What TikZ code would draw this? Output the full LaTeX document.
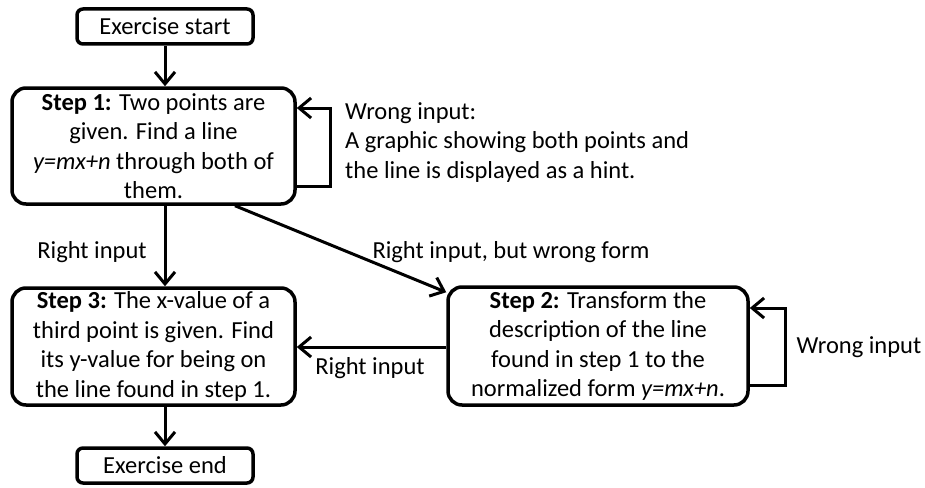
\documentclass[tikz,border=0pt]{standalone}
\usepackage{fontspec}
\setmainfont{Carlito}
\usetikzlibrary{arrows.meta}
\begin{document}
\begin{tikzpicture}[x=1pt,y=-1pt,
  txt/.style={font=\fontsize{24.5}{29.5}\selectfont, inner sep=0pt},
  box/.style={txt, draw, line width=3.5pt, rounded corners=14pt, align=center},
  smallbox/.style={txt, draw, line width=3.5pt, rounded corners=6pt, align=center},
  arr/.style={line width=3pt, -{Straight Barb[length=12pt,width=20pt,line width=3pt]}}]
\useasboundingbox (0,0) rectangle (925,487);
\node[smallbox, minimum width=176pt, minimum height=35pt] (es) at (165,26.5) {Exercise start};
\node[box, minimum width=283pt, minimum height=116pt] (s1) at (153.5,146) {\textbf{Step 1:} Two points are\\ given. Find a line\\ \textit{y=mx+n} through both of\\ them.};
\node[box, minimum width=283pt, minimum height=117pt] (s3) at (153.5,346.5) {\textbf{Step 3:} The x-value of a\\ third point is given. Find\\ its y-value for being on\\ the line found in step 1.};
\node[smallbox, minimum width=176pt, minimum height=35pt] (ee) at (165,465.5) {Exercise end};
\node[box, minimum width=300pt, minimum height=118pt] (s2) at (598,346) {\textbf{Step 2:} Transform the\\ description of the line\\ found in step 1 to the\\ normalized form \textit{y=mx+n}.};

\node[txt, anchor=north west, align=left] (hint) at (345,102) {Wrong input:\\ A graphic showing both points and\\ the line is displayed as a hint.};
\node[txt] (l1) at (92,252) {Right input};
\node[txt] (l2) at (511,252) {Right input, but wrong form};
\node[txt] (l3) at (370,368) {Right input};
\node[txt] (l4) at (859,347) {Wrong input};

\coordinate (c1) at (330,186);
\coordinate (c2) at (330,108);
\coordinate (c3) at (785,385);
\coordinate (c4) at (785,308);

\draw[arr] (es.south -| 165,0) -- (s1.north -| 165,0);
\draw[arr] (s1.south -| 165,0) -- (s3.north -| 165,0);
\draw[arr] (s3.south -| 165,0) -- (ee.north -| 165,0);
\draw[arr] (s1.south -| 235,0) -- ([yshift=-7pt]s2.north west);
\draw[arr] (s2.west |- 0,347) -- (s3.east |- 0,347);
\draw[arr] (s1.east |- c1) -- (c1) -- (c2) -- (s1.east |- c2);
\draw[arr] (s2.east |- c3) -- (c3) -- (c4) -- (s2.east |- c4);
\end{tikzpicture}
\end{document}
